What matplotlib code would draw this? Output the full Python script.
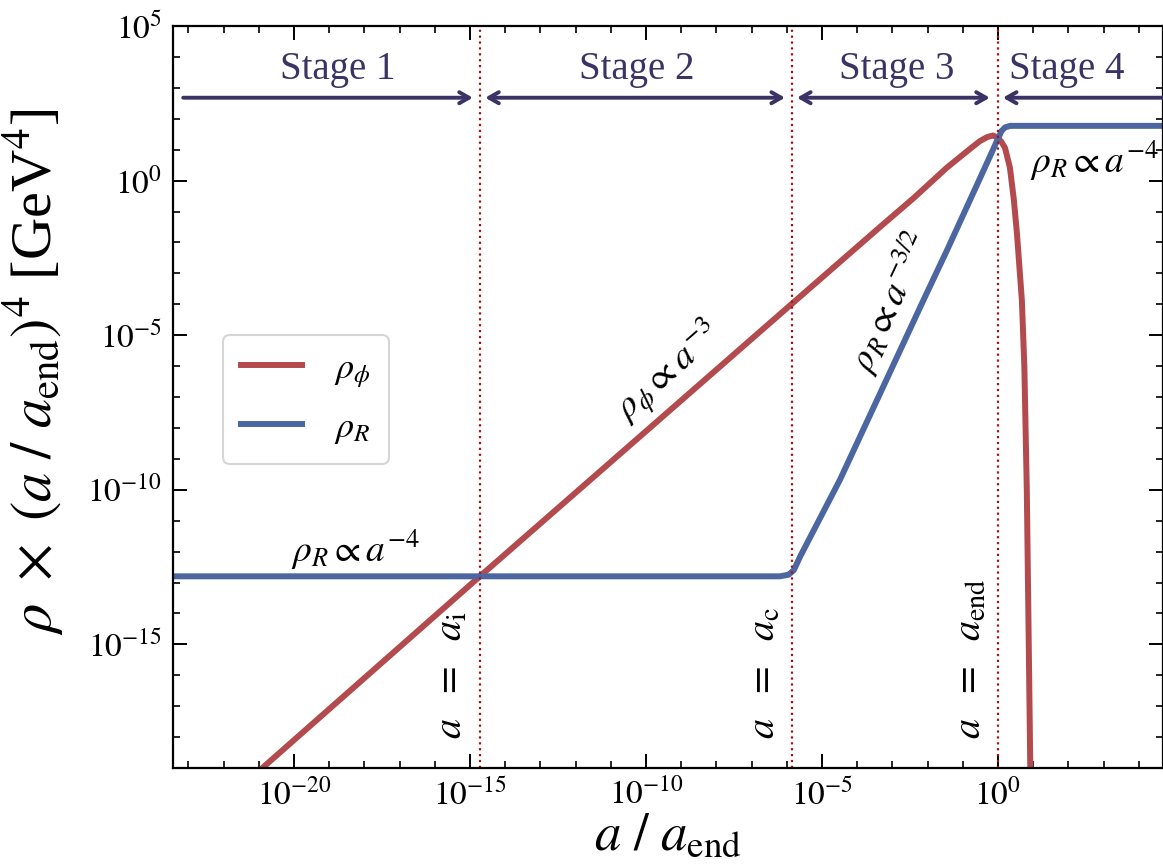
import numpy as np
import matplotlib
matplotlib.use("Agg")
import matplotlib.pyplot as plt
from matplotlib.ticker import NullFormatter

plt.rcParams['font.family'] = ['Liberation Serif', 'DejaVu Serif']
plt.rcParams['mathtext.fontset'] = 'stix'

# values, as log10(a/a_end) and log10(rho)
phi_loga = [-21.5, -14.72, -5.85, -3.35, -2.4, -1.45, -0.8, -0.51, -0.3, -0.14,
            0.0, 0.1, 0.2, 0.34, 0.45, 0.54, 0.68, 0.75, 0.82, 0.87, 0.93]
phi_logr = [-19.6, -12.8, -3.98, -1.5, -0.57, 0.42, 1.02, 1.28, 1.41, 1.46,
            1.38, 1.25, 1.06, 0.42, -0.6, -1.71, -3.87, -6.0, -10.0, -14.5, -20.0]

rad_loga = [-23.6, -6.2, -5.95, -5.8, -5.62, -4.49, -2.13, -1.45, -0.5,
            0.0, 0.1, 0.2, 0.35, 4.8]
rad_logr = [-12.8, -12.8, -12.75, -12.6, -12.16, -9.68, -3.9, -2.26, 0.1,
            1.35, 1.6, 1.72, 1.77, 1.77]

# special scale factors (log10)
mark_loga = [-14.72, -5.85, 0.0]
mark_text = [r'$a\ \ =\ \ a_{\rm i}$', r'$a\ \ =\ \ a_{\rm c}$', r'$a\ \ =\ \ a_{\rm end}$']

stage_names = ['Stage 1', 'Stage 2', 'Stage 3', 'Stage 4']
stage_center = [-18.75, -10.26, -2.87, 1.96]
stage_left = [-23.15, -14.57, -5.71, 0.14]
stage_right = [-14.92, -6.05, -0.23, 5.5]

red = '#b24a4e'
blue = '#4b66a0'
purple = '#3b3366'

fig = plt.figure(figsize=(11.63, 8.68), dpi=100)
ax = fig.add_axes([173/1163, 1 - 768/868, 990/1163, 742/868])

ax.plot(10**np.array(phi_loga), 10**np.array(phi_logr), color=red, lw=4.3,
        label=r'$\rho_\phi$')
ax.plot(10**np.array(rad_loga), 10**np.array(rad_logr), color=blue, lw=4.3,
        label=r'$\rho_R$')

for la, txt in zip(mark_loga, mark_text):
    ax.axvline(10**la, color='#a01515', ls=':', lw=1.6)
    ax.text(10**(la - 0.25), 10**-18.05, txt, rotation=90, ha='right',
            va='bottom', fontsize=29)

# stage labels and arrows
arrow_y = 10**2.68
for i in range(4):
    ax.text(10**stage_center[i], 10**3.6, stage_names[i], ha='center',
            va='center', fontsize=28, color=purple)
    style = '<->'
    if i == 0:
        style = '->'
    if i == 3:
        style = '<-'
    ax.annotate('', xy=(10**stage_right[i], arrow_y),
                xytext=(10**stage_left[i], arrow_y),
                arrowprops=dict(arrowstyle=style + ',head_length=0.7,head_width=0.4',
                                color=purple, lw=2.8, shrinkA=0, shrinkB=0),
                annotation_clip=False)

# scaling annotations
ax.text(10**-18.27, 10**-11.94, r'$\rho_R \propto a^{-4}$', ha='center',
        va='center', fontsize=27)
ax.text(10**-9.375, 10**-6.19, r'$\rho_\phi \propto a^{-3}$', ha='center',
        va='center', fontsize=27, rotation=41)
ax.text(10**-3.07, 10**-3.94, r'$\rho_R \propto a^{-3/2}$', ha='center',
        va='center', fontsize=27, rotation=65)
ax.text(10**0.91, 10**0.65, r'$\rho_R \propto a^{-4}$', ha='left',
        va='center', fontsize=27, clip_on=True)

ax.set_xscale('log')
ax.set_yscale('log')
ax.set_xlim(10**-23.44, 10**4.69)
ax.set_ylim(1e-19, 1e5)

ax.set_xticks([1e-20, 1e-15, 1e-10, 1e-5, 1e0])
ax.set_xticks([10.0**k for k in range(-23, 5)], minor=True)
ax.set_xticklabels([r'$10^{-20}$', r'$10^{-15}$', r'$10^{-10}$', r'$10^{-5}$', r'$10^{0}$'])
ax.set_yticks([1e-15, 1e-10, 1e-5, 1e0, 1e5])
ax.set_yticks([10.0**k for k in range(-19, 5)], minor=True)
ax.set_yticklabels([r'$10^{-15}$', r'$10^{-10}$', r'$10^{-5}$', r'$10^{0}$', r'$10^{5}$'])
ax.xaxis.set_minor_formatter(NullFormatter())
ax.yaxis.set_minor_formatter(NullFormatter())

ax.tick_params(which='both', direction='in', top=True, right=True, labelsize=24)
ax.tick_params(which='major', length=10, width=1.4, pad=8)
ax.tick_params(which='minor', length=5, width=1.2)
for s in ax.spines.values():
    s.set_linewidth(1.6)

ax.set_xlabel(r'$a\ /\ a_{\rm end}$', fontsize=38)
ax.xaxis.set_label_coords(0.5, -0.06)
ax.set_ylabel(r'$\rho\ \times\ (a\ /\ a_{\rm end})^4$ [GeV$^4$]', fontsize=42)
ax.yaxis.set_label_coords(-0.108, 0.534)

leg = ax.legend(loc='upper left', bbox_to_anchor=(0.05, 0.584), fontsize=26,
                frameon=True, fancybox=True, handlelength=1.7, handletextpad=0.9,
                labelspacing=0.6, borderpad=0.5, borderaxespad=0)
leg.get_frame().set_edgecolor('#cccccc')
leg.get_frame().set_linewidth(1.5)

fig.savefig('out.png', dpi=100)
